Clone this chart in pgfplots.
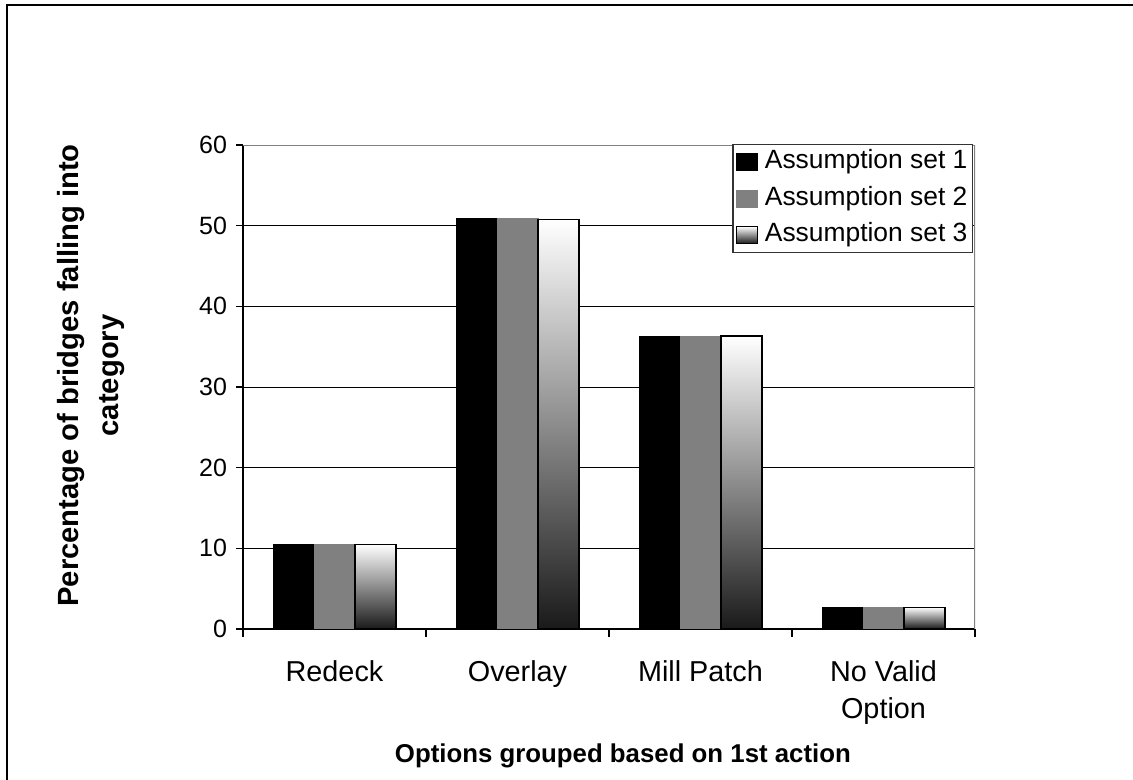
\documentclass[border=0pt]{standalone}
\usepackage{pgfplots}
\pgfplotsset{compat=1.18}
\usepackage{fontspec}
\setmainfont{Liberation Sans}
\begin{document}
\begin{tikzpicture}
\useasboundingbox (0pt,0pt) rectangle (566.5pt,390pt);
\draw[line width=1pt] (3.25pt,0pt) -- (3.25pt,387.25pt) -- (566.5pt,387.25pt);
\begin{axis}[
  at={(121.5pt,75.5pt)}, anchor=south west,
  scale only axis, width=366pt, height=242pt,
  ymin=0, ymax=60, ytick={0,10,...,60},
  xmin=-0.5, xmax=3.5,
  xtick={0,1,2,3},
  xticklabels={Redeck,Overlay,Mill Patch,{No Valid\\Option}},
  minor xtick={-0.5,0.5,1.5,2.5,3.5},
  major x tick style={draw=none},
  tick align=outside,
  major tick length=3.5pt, minor tick length=4pt,
  axis x line*=bottom, axis y line*=left,
  axis line style={black, line width=0.6pt},
  every tick/.style={black, line width=0.6pt},
  ymajorgrids, grid style={black, line width=0.5pt},
  /pgf/number format/assume math mode=true,
  xticklabel style={font=\fontsize{14.4}{18.5}\selectfont, align=center, yshift=-9pt},
  yticklabel style={font=\fontsize{12.5}{14}\selectfont, xshift=-1pt},
  xlabel={\textbf{Options grouped based on 1st action}},
  ylabel={\textbf{Percentage of bridges falling into}\\\textbf{category}},
  xlabel style={font=\fontsize{12.9}{15.5}\selectfont, at={(axis description cs:0.519,-0.262)}, anchor=center},
  ylabel style={font=\fontsize{14.6}{20}\selectfont, at={(axis description cs:-0.208,0.524)}, anchor=center, align=center},
  ybar, bar width=20.5pt,
  legend style={at={(rel axis cs:1,1)}, xshift=-1pt, yshift=0.5pt, anchor=north east,
    font=\fontsize{13.2}{15.5}\selectfont,
    draw=black!80, line width=0.6pt, inner xsep=1.5pt, inner ysep=1.5pt, row sep=3.75pt, column sep=0pt,
    nodes={inner sep=1pt, text height=9.5pt, text depth=3pt},
    cells={anchor=west}},
  legend image code/.code={\draw[#1, line width=0.5pt] (0pt,-4.25pt) rectangle (10.5pt,4.25pt);},
]
\addplot[fill=black, draw=black, bar shift=-20.5pt] coordinates {(0,10.5) (1,50.9) (2,36.3) (3,2.7)};
\addplot[fill=black!50, draw=black!50, bar shift=0pt] coordinates {(0,10.5) (1,50.9) (2,36.3) (3,2.7)};
\pgfplotsset{set3/.style={top color=white, middle color=black!22, bottom color=black!90, draw=black, line width=0.7pt, bar shift=20.5pt}}
\addplot[set3] coordinates {(0,10.5)};
\addplot[set3, forget plot] coordinates {(1,50.8)};
\addplot[set3, forget plot] coordinates {(2,36.3)};
\addplot[set3, forget plot] coordinates {(3,2.7)};
\legend{\hspace{2.5pt}Assumption set 1,\hspace{2.5pt}Assumption set 2,\hspace{2.5pt}Assumption set 3}
\draw[black!50, line width=0.6pt] (rel axis cs:1,0) -- (rel axis cs:1,1);
\draw[black!50, line width=0.6pt] (rel axis cs:0,1) -- (rel axis cs:1,1);
\end{axis}
\end{tikzpicture}
\end{document}
